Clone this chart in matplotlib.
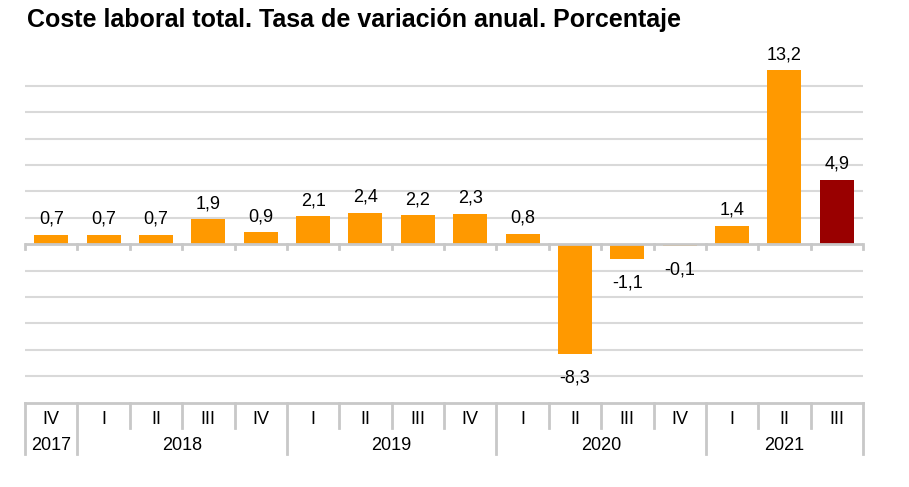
import matplotlib
matplotlib.use("Agg")
import matplotlib.pyplot as plt
from matplotlib.transforms import blended_transform_factory

plt.rcParams['font.family'] = ['Liberation Sans', 'DejaVu Sans']

quarters = ['IV', 'I', 'II', 'III', 'IV', 'I', 'II', 'III', 'IV',
            'I', 'II', 'III', 'IV', 'I', 'II', 'III']
values = [0.7, 0.7, 0.7, 1.9, 0.9, 2.1, 2.4, 2.2, 2.3,
          0.8, -8.3, -1.1, -0.1, 1.4, 13.2, 4.9]
years = ['2017', '2018', '2019', '2020', '2021']
year_counts = [1, 4, 4, 4, 3]
title = 'Coste laboral total. Tasa de variación anual. Porcentaje'

orange = '#FF9900'
darkred = '#990000'
grey = '#C8C8C8'
grid_grey = '#D9D9D9'

W, H = 909, 487
fig = plt.figure(figsize=(W / 100, H / 100), dpi=100)
left, right = 25 / W, 863 / W
bottom, top = (H - 402.5) / H, (H - 59.5) / H
ax = fig.add_axes([left, bottom, right - left, top - bottom])

n = len(values)
x = list(range(n))
colors = [orange] * (n - 1) + [darkred]
ax.bar(x, values, width=0.65, color=colors, zorder=3)

ax.set_xlim(-0.5, n - 0.5)
ax.set_ylim(-12, 14)
for yv in range(-10, 13, 2):
    if yv != 0:
        ax.axhline(yv, color=grid_grey, lw=1.5, zorder=1)
ax.axhline(0, color=grey, lw=2, zorder=4)

for s in ax.spines.values():
    s.set_visible(False)
ax.set_xticks([])
ax.set_yticks([])

# value labels
for xi, v in zip(x, values):
    lab = f'{v:.1f}'.replace('.', ',')
    if v >= 0:
        ax.annotate(lab, (xi, v), xytext=(0, 7), textcoords='offset pixels',
                    ha='center', va='bottom', fontsize=13, zorder=5)
    else:
        ax.annotate(lab, (xi, v), xytext=(0, -16), textcoords='offset pixels',
                    ha='center', va='top', fontsize=13, zorder=5)

# category axis table
tr = blended_transform_factory(ax.transData, fig.transFigure)
def fy(py):
    return (H - py) / H

y_top = fy(403)
y_q = fy(428)
y_y = fy(454)
y_zero_tick = fy(249)
y_zero = fy(244)

ax.plot([-0.5, n - 0.5], [y_top, y_top], color=grey, lw=2, transform=tr, clip_on=False)
year_bounds = [-0.5]
acc = -0.5
for c in year_counts:
    acc += c
    year_bounds.append(acc)
for b in range(n + 1):
    xb = b - 0.5
    low = y_y if xb in year_bounds else y_q
    ax.plot([xb, xb], [y_top, low], color=grey, lw=2, transform=tr, clip_on=False)
    ax.plot([xb, xb], [y_zero, y_zero_tick], color=grey, lw=2, transform=tr,
            clip_on=False, zorder=4)

for xi, q in zip(x, quarters):
    ax.text(xi, fy(419), q, ha='center', va='center', fontsize=13, transform=tr)
for i, yr in enumerate(years):
    xc = (year_bounds[i] + year_bounds[i + 1]) / 2
    ax.text(xc, fy(445), yr, ha='center', va='center', fontsize=13, transform=tr)

fig.text(27 / W, fy(27), title, ha='left', va='baseline', fontsize=18,
         fontweight='bold')

fig.savefig('out.png', dpi=100)
